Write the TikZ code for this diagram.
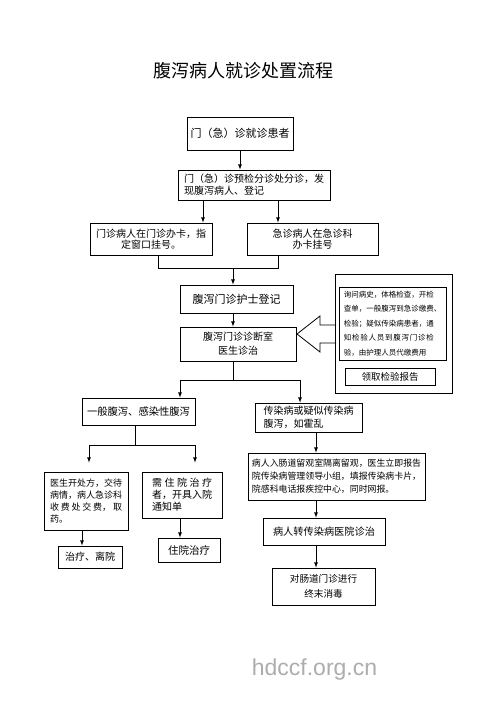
\documentclass[tikz,border=0pt]{standalone}
\usepackage{fontspec}
\setmainfont{Noto Sans CJK SC}
\newfontfamily\wmfont{Liberation Sans}
\usepackage{tikz}
\newcommand\fs[2]{\fontsize{#1}{#2}\selectfont}

\begin{document}
\begin{tikzpicture}
    [
    x=1pt, y=-1pt,
    line width=0.8pt,
    box/.style={draw,rectangle,inner sep=2pt},
    ]
    \useasboundingbox (0,0) rectangle (500,707);
    \fill [white] (0,0) rectangle (500,707);

    \node (title) at (243.5,71) {\fs{18}{20}腹泻病人就诊处置流程};

    \node (b1) at (240,133.5) [box, minimum width=106, minimum height=33, font=\fs{11}{13}] {门（急）诊就诊患者};
    \node (b2) at (254,185) [box, minimum width=152, minimum height=30, font=\fs{10}{12}, align=left] {门（急）诊预检分诊处分诊，发\\现腹泻病人、登记};
    \node (b3a) at (151,239) [box, minimum width=122, minimum height=32, font=\fs{10}{11.5}, align=center] {门诊病人在门诊办卡，指\\定窗口挂号。};
    \node (b3b) at (312.5,239) [box, minimum width=131, minimum height=32, font=\fs{10}{11.5}, align=center] {急诊病人在急诊科\\办卡挂号};
    \node (b4) at (236.5,299) [box, minimum width=113, minimum height=28, font=\fs{11}{13}] {腹泻门诊护士登记};
    \node (b5) at (238,344) [box, minimum width=116, minimum height=34, font=\fs{10}{14}, align=center] {腹泻门诊诊断室\\医生诊治};

    \node (side) at (393.5,333.5) [box, minimum width=117, minimum height=119] {};
    \node (check) at (392.5,323.5) [box, minimum width=107, minimum height=73, font=\fs{7.5}{14.5}, align=left] {询问病史，体格检查，开检\\查单，一般腹泻到急诊缴费、\\检验；疑似传染病患者，通\\\makebox[90pt][s]{知\hfill 检\hfill 验\hfill 人\hfill 员\hfill 到\hfill 腹\hfill 泻\hfill 门\hfill 诊\hfill 检}\\验，由护理人员代缴费用};
    \node (report) at (390,376.5) [box, minimum width=90, minimum height=17, font=\fs{9.5}{11}] {领取检验报告};
    \draw (336,325) -- (320,325) -- (320,316) -- (297,334) -- (320,352) -- (320,343) -- (336,343);

    \node (b6) at (138.5,411.5) [box, minimum width=113, minimum height=27, font=\fs{10.3}{12}] {一般腹泻、感染性腹泻};
    \node (b7) at (308.5,417.5) [box, minimum width=107, minimum height=29, font=\fs{10}{13}, align=left] {传染病或疑似传染病\\腹泻，如霍乱};
    \node (b8) at (336.5,476.5) [box, minimum width=177, minimum height=47, font=\fs{8.9}{13}, align=left] {病人入肠道留观室隔离留观，医生立即报告\\院传染病管理领导小组，填报传染病卡片，\\院感科电话报疾控中心，同时网报。};
    \node (b9) at (324,531.5) [box, minimum width=122, minimum height=27, font=\fs{10.2}{12}] {病人转传染病医院诊治};
    \node (b10) at (323.5,586.5) [box, minimum width=103, minimum height=37, font=\fs{9.6}{15}, align=center] {对肠道门诊进行\\终末消毒};

    \node (l1) at (86,501) [box, minimum width=84, minimum height=58, font=\fs{9}{12}, align=left] {医生开处方，交待\\病情，病人急诊科\\\makebox[72pt][s]{收\hfill 费\hfill 处\hfill 交\hfill 费，\hfill 取}\\药。};
    \node (l2) at (182,495) [box, minimum width=80, minimum height=46, font=\fs{10}{12}, align=left] {\makebox[60pt][s]{需\hfill 住\hfill 院\hfill 治\hfill 疗}\\者，开具入院\\通知单};
    \node (l3) at (90,557) [box, minimum width=64, minimum height=22, font=\fs{10}{12}] {治疗、离院};
    \node (l4) at (189,550) [box, minimum width=62, minimum height=24, font=\fs{10.5}{12}] {住院治疗};

    \coordinate (colA) at (203,0);
    \coordinate (colB) at (278,0);
    \coordinate (colC) at (158,0);
    \coordinate (join) at (233,268);
    \coordinate (fork1) at (233,380);
    \coordinate (fork1l) at (180,380);
    \coordinate (fork1r) at (300,380);
    \coordinate (colR) at (316,0);
    \coordinate (fork2) at (135,445);
    \coordinate (fork2l) at (89,445);
    \coordinate (fork2r) at (195,445);
    \coordinate (colL1) at (82,0);
    \coordinate (colL2) at (180,0);

    \draw [-latex] (b1.south) to (b1.south |- b2.north);
    \draw [-latex] (b2.south -| colA) to (b3a.north -| colA);
    \draw [-latex] (b2.south -| colB) to (b3b.north -| colB);
    \draw (b3a.south -| colC) |- (join);
    \draw (b3b.south -| colB) |- (join);
    \draw [-latex] (join) to (join |- b4.north);
    \draw [-latex] (b4.south -| join) to (b5.north -| join);

    \draw (b5.south -| fork1) to (fork1);
    \draw (fork1l) to (fork1r);
    \draw [-latex] (fork1l) to (fork1l |- b6.north);
    \draw [-latex] (fork1r) to (fork1r |- b7.north);

    \draw [-latex] (b7.south -| colR) to (b8.north -| colR);
    \draw [-latex] (b8.south -| colR) to (b9.north -| colR);
    \draw [-latex] (b9.south -| colR) to (b10.north -| colR);

    \draw (b6.south -| fork2) to (fork2);
    \draw (fork2l) to (fork2r);
    \draw [-latex, shorten >=9pt] (fork2l) to (fork2l |- l1.north);
    \draw [-latex, shorten >=9pt] (fork2r) to (fork2r |- l2.north);
    \draw [-latex] (l1.south -| colL1) to (l3.north -| colL1);
    \draw [-latex] (l2.south -| colL2) to (l4.north -| colL2);

    \node (mark) at (314.5,670) [text=black!32, font=\wmfont\fs{23}{23}] {hdccf.org.cn};
  \end{tikzpicture}
\end{document}
